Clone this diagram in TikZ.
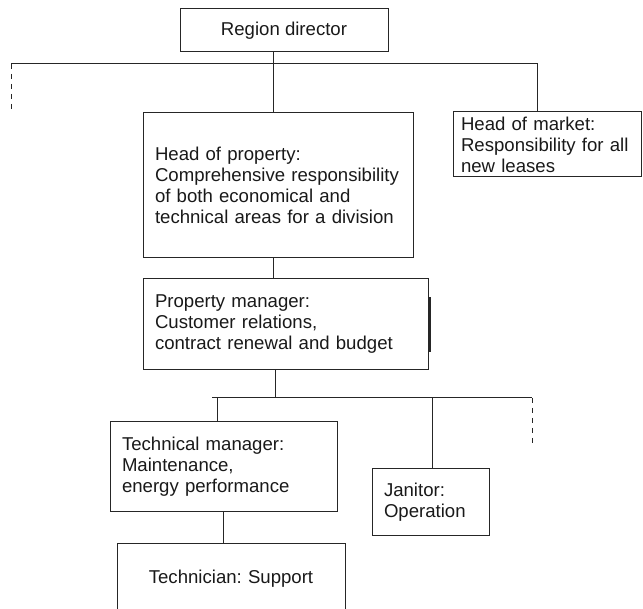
\documentclass[tikz,border=0pt]{standalone}
\usepackage{fontspec}
\setmainfont{Liberation Sans}
\frenchspacing
\usetikzlibrary{positioning}
\tikzstyle{post}=[
	rectangle,
	draw=black!85,
	line width=1pt,
	text=black!90,
	font=\fontsize{18.6}{21}\selectfont,
	inner xsep=12pt,
	align=left
]
\tikzstyle{link}=[
	draw=black!85,
	line width=1pt
]
\tikzstyle{open link}=[
	link,
	dash pattern=on 5pt off 5pt
]

\begin{document}
\begin{tikzpicture}[x=1pt,y=-1pt]
\clip (0,0) rectangle (643,609);
\node [post, align=center, minimum width=208pt, minimum height=43pt] (director) at (284,30.5) {Region director};
\node [post, text width=246pt, minimum height=145pt] (property) at (278,185.5)
	{Head of property:\\Comprehensive responsibility\\of both economical and\\technical areas for a division};
\node [post, text width=172pt, inner xsep=8pt, minimum height=65pt] (market) at (547,144.5)
	{Head of market:\\Responsibility for all\\new leases};
\node [post, text width=261pt, minimum height=91pt] (manager) at (285.5,324.5)
	{Property manager:\\Customer relations,\\contract renewal and budget};
\node [post, text width=203pt, minimum height=90pt] (technical) at (223.5,467)
	{Technical manager:\\Maintenance,\\energy performance};
\node [post, text width=93pt, minimum height=66pt] (janitor) at (430.5,502)
	{Janitor:\\Operation};
\node [post, align=center, text width=204pt, inner ysep=27pt, anchor=north] (technician) at (231,543)
	{Technician: Support};
% upper level
\coordinate (busW) at (11,64);
\coordinate (marketjoint) at ([xshift=-10pt]market.north);
\draw [link] ([xshift=-11pt]director.south) -- ([xshift=-11pt]director.south |- property.north);
\draw [link] (busW) -| (marketjoint);
\draw [open link] (busW) -- ++(0,48);
\draw [link] ([xshift=-5pt]property.south) -- ([xshift=-5pt]property.south |- manager.north);
\draw [link, line width=2.5pt] ([xshift=1pt,yshift=-19pt]manager.north east) -- ([xshift=1pt,yshift=-74pt]manager.north east);
% lower level
\coordinate (busS) at (212,398);
\coordinate (busE) at (532,398);
\draw [link] ([xshift=-10.5pt]manager.south) -- ([xshift=-10.5pt]manager.south |- busS);
\draw [link] (busS) -- (busE);
\draw [open link] (busE) -- ++(0,49);
\draw [link] ([xshift=-6.5pt]technical.north |- busS) -- ([xshift=-6.5pt]technical.north);
\draw [link] ([xshift=1.5pt]janitor.north |- busS) -- ([xshift=1.5pt]janitor.north);
\draw [link] (technical.south) -- (technical.south |- technician.north);
\end{tikzpicture}
\end{document}
